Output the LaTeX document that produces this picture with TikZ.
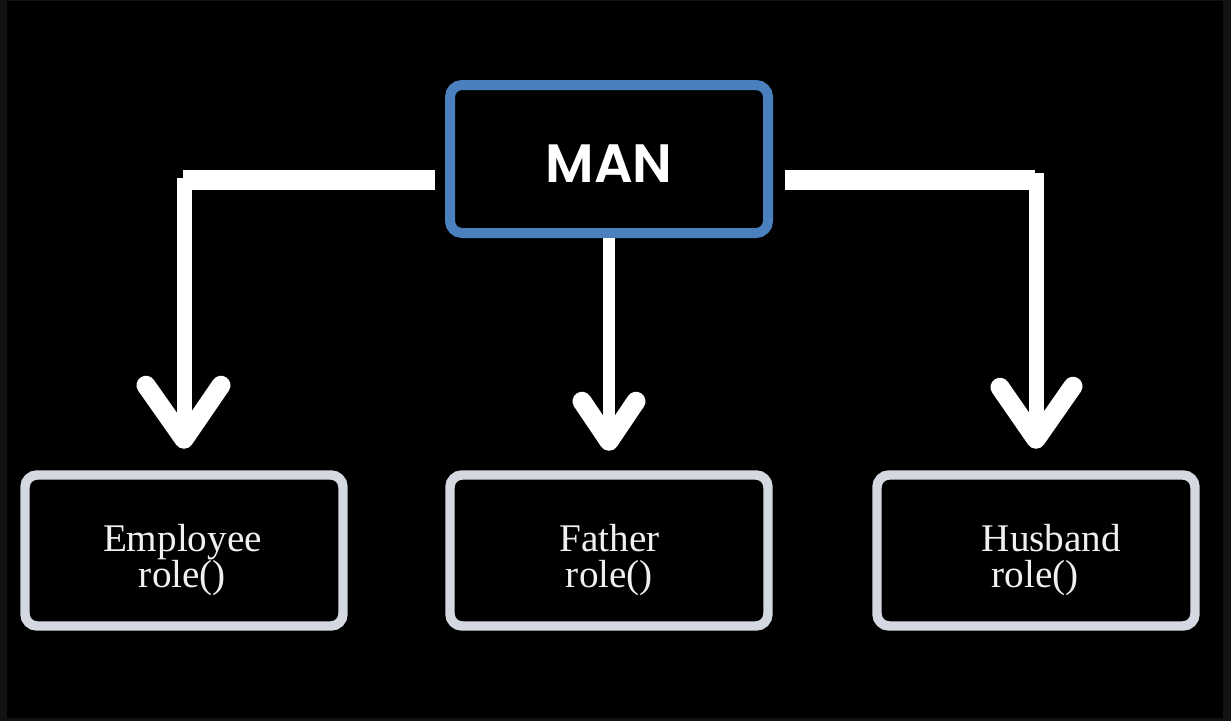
\documentclass[tikz,border=0pt]{standalone}
\usepackage{fontspec}
\setmainfont{Liberation Serif}
\newfontfamily\manfont{Poppins SemiBold}
\definecolor{framegray}{RGB}{18,18,18}
\definecolor{manblue}{RGB}{74,128,190}
\definecolor{boxgray}{RGB}{212,216,224}
\definecolor{labelwhite}{RGB}{240,240,240}
\begin{document}
\begin{tikzpicture}[x=0.75pt,y=-0.75pt,
  manbox/.style={draw=manblue, line width=7.5pt, rounded corners=9pt,
    minimum width=238.5pt, minimum height=111pt, inner sep=0pt},
  rolebox/.style={draw=boxgray, line width=7.1pt, rounded corners=9pt,
    minimum width=238.5pt, minimum height=113.25pt, inner sep=0pt},
  mantext/.style={text=white, inner sep=0pt,
    font=\manfont\fontsize{40.5pt}{40pt}\selectfont},
  lbl/.style={text=labelwhite, align=center, inner sep=0pt,
    font=\fontsize{29.4pt}{27.5pt}\selectfont},
  bar/.style={draw=white, line width=15pt},
  stem/.style={draw=white, line width=11.25pt},
  midstem/.style={draw=white, line width=9pt},
  head/.style={draw=white, line width=14.25pt, line cap=round, line join=round}]

% page and dark frame
\useasboundingbox (0,0) rectangle (1231,721);
\fill[framegray] (0,0) rectangle (1231,721);
\fill[black] (7,1) rectangle (1223,718);

% boxes
\node[manbox] (man) at (609,159) {};
\node[mantext] (manT) at (609,164) {MAN};
\node[rolebox] (emp) at (184,550.5) {};
\node[rolebox] (fat) at (609,550.5) {};
\node[rolebox] (hus) at (1036,550.5) {};

% labels
\node[lbl] (empT) at (182.5,560) {Employee\\role()};
\node[lbl] (fatT) at (609.5,560) {Father\\role()};
\node[lbl] (husT) at (1035,560) {\hspace*{24.75pt}Husband\\role()};

% corner points of the side connectors
\coordinate (lk) at (man.west -| emp.north);
\coordinate (rk) at (man.east -| hus.north);

% left connector
\draw[bar] ([shift={(-10,21)}]man.west) -- ([shift={(-1,21)}]lk);
\draw[stem] ([shift={(0,19)}]lk) -- ([shift={(0,-31)}]emp.north);
\draw[head] ([shift={(-38,-85)}]emp.north) -- ([shift={(0,-31)}]emp.north)
  -- ([shift={(37,-85)}]emp.north);

% middle connector
\draw[midstem] (man.south) -- ([shift={(0,-29)}]fat.north);
\draw[head] ([shift={(-27,-69)}]fat.north) -- ([shift={(0,-29)}]fat.north)
  -- ([shift={(27,-69)}]fat.north);

% right connector
\draw[bar] ([shift={(12,21)}]man.east) -- ([shift={(-1,21)}]rk);
\draw[stem] ([shift={(0,14)}]rk) -- ([shift={(0,-31)}]hus.north);
\draw[head] ([shift={(-36,-83)}]hus.north) -- ([shift={(0,-31)}]hus.north)
  -- ([shift={(37,-84)}]hus.north);
\end{tikzpicture}
\end{document}
